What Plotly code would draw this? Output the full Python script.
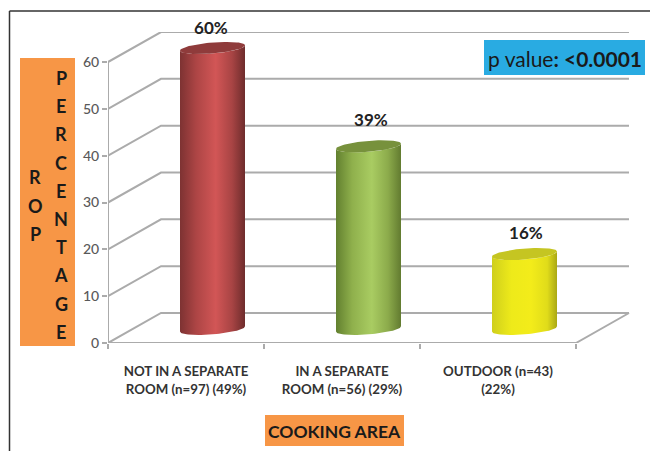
import numpy as np
import plotly.graph_objects as go

categories = ["NOT IN A SEPARATE<br>ROOM (n=97) (49%)", "IN A SEPARATE<br>ROOM (n=56) (29%)", "OUTDOOR (n=43)<br>(22%)"]
values = [60, 39, 16]
labels = ["60%", "39%", "16%"]
y_ticks = [0, 10, 20, 30, 40, 50, 60]
word_rop = list("ROP")
word_percentage = list("PERCENTAGE")

side_colors = [
    [[0, "#7d3232"], [0.25, "#ad4545"], [0.55, "#d25656"], [0.8, "#a84444"], [1, "#6e2c2c"]],
    [[0, "#62802f"], [0.25, "#8fb04c"], [0.55, "#a9cc62"], [0.8, "#8cab4b"], [1, "#627b30"]],
    [[0, "#cfcf1c"], [0.3, "#eeea1a"], [0.6, "#f3ec1a"], [0.85, "#e0dc1a"], [1, "#aaa815"]],
]
top_colors = ["#8f3b3b", "#77913c", "#c5c522"]
label_shift_x_px = [0, 4, 3]
label_shift_y_px = [1, 7, 2]

W, H = 650, 451
L, R, T, B = 108, 20, 32, 108
PX_X = 156.0
PX_Y = 4.683
DX, DY = 53 / PX_X, 30 / PX_Y
GRID = "#ababab"
XMAX = (W - R - L) / PX_X - 0.5
YMAX = (H - B - T) / PX_Y

fig = go.Figure()

# 3-D frame: walls and floor
for v in y_ticks:
    fig.add_trace(go.Scatter(x=[-0.5, -0.5 + DX, 2.5 + DX], y=[v, v + DY, v + DY], mode="lines",
                             line=dict(color=GRID, width=2), showlegend=False, hoverinfo="skip"))
fig.add_trace(go.Scatter(x=[-0.5, -0.5], y=[0, y_ticks[-1]], mode="lines",
                         line=dict(color=GRID, width=2), showlegend=False, hoverinfo="skip"))
fig.add_trace(go.Scatter(x=[-0.5, 2.5, 2.5 + DX], y=[0, 0, DY], mode="lines",
                         line=dict(color=GRID, width=2), showlegend=False, hoverinfo="skip"))

# Cylinders
A = 32.5 / PX_X
Bb = 5.5 / PX_Y
TILT = 2.6 / PX_Y
BASE = 3.0
OFFSET = 0.5 * DX
for i, v in enumerate(values):
    cx = i + OFFSET
    t_front = np.linspace(np.pi, 2 * np.pi, 40)
    bx = cx + A * np.cos(t_front)
    by = BASE + Bb * np.sin(t_front) + TILT * np.cos(t_front)
    tx = bx[::-1]
    ty = (by + v)[::-1]
    t_all = np.linspace(0, 2 * np.pi, 80)
    ex = cx + A * np.cos(t_all)
    ey = BASE + v + Bb * np.sin(t_all) + TILT * np.cos(t_all)
    fig.add_trace(go.Scatter(
        x=np.r_[bx, tx], y=np.r_[by, ty], mode="lines", fill="toself",
        line=dict(width=0, color="rgba(0,0,0,0)"),
        fillgradient=dict(type="horizontal", colorscale=side_colors[i]),
        showlegend=False, hoverinfo="skip"))
    fig.add_trace(go.Scatter(
        x=ex, y=ey, mode="lines", fill="toself", fillcolor=top_colors[i],
        line=dict(width=0, color="rgba(0,0,0,0)"), showlegend=False, hoverinfo="skip"))

# Value labels
fig.add_trace(go.Scatter(
    x=[i + OFFSET - 0.01 + label_shift_x_px[i] / PX_X for i in range(len(values))],
    y=[v + BASE + 1.9 + label_shift_y_px[i] / PX_Y for i, v in enumerate(values)],
    mode="text", text=labels, textposition="top center",
    textfont=dict(family="Lato", size=17, color="#222222", weight=700),
    showlegend=False, hoverinfo="skip", cliponaxis=False))

fig.update_xaxes(
    range=[-0.5, XMAX], tickmode="array", tickvals=list(range(len(categories))), ticktext=categories,
    ticks="", showgrid=False, zeroline=False, showline=False, ticklabelstandoff=19,
    tickfont=dict(family="Lato", size=13.3, color="#333333", weight=700),
    minor=dict(tickmode="array", tickvals=[-0.5, 0.5, 1.5, 2.5], ticks="outside", ticklen=5,
               tickcolor=GRID, tickwidth=1.5, showgrid=False))
fig.update_yaxes(
    range=[0, YMAX], tickmode="array", tickvals=y_ticks, ticks="outside", ticklen=5, tickwidth=1.5,
    tickcolor=GRID, showgrid=False, zeroline=False, showline=False,
    tickfont=dict(family="Lato", size=14, color="#595959", weight=500))


def px(x):
    return (x - L) / (W - L - R)


def py(y):
    return (H - B - y) / (H - B - T)


ORANGE = "#f79646"
shapes = [
    dict(x0=px(20), x1=px(75), y0=py(346), y1=py(58), fill=ORANGE),
    dict(x0=px(265), x1=px(404), y0=py(446), y1=py(415), fill=ORANGE),
    dict(x0=px(484), x1=px(645), y0=py(75), y1=py(40), fill="#29abe2"),
]
layout_shapes = [dict(type="rect", xref="paper", yref="paper", x0=s["x0"], x1=s["x1"], y0=s["y0"], y1=s["y1"],
                      fillcolor=s["fill"], line=dict(width=0), layer="below") for s in shapes]
layout_shapes.append(dict(type="line", xref="paper", yref="paper", x0=px(9.5), x1=px(650), y0=py(11), y1=py(11),
                          line=dict(color="#333333", width=1.5)))
layout_shapes.append(dict(type="line", xref="paper", yref="paper", x0=px(9.5), x1=px(9.5), y0=py(11), y1=py(451),
                          line=dict(color="#333333", width=1.5)))


def note(x, y, text, size, weight=700, color="#1a1a1a"):
    return dict(xref="paper", yref="paper", x=px(x), y=py(y), text=text, showarrow=False,
                xanchor="center", yanchor="middle",
                font=dict(family="Lato", size=size, color=color, weight=weight))


annotations = []
for i, ch in enumerate(word_rop):
    annotations.append(note(35, 177 + i * 28.5, ch, 18))
for i, ch in enumerate(word_percentage):
    annotations.append(note(61, 78 + i * 28.2, ch, 18))
annotations.append(note(334, 431, "COOKING AREA", 17.5))
annotations.append(note(565, 58, "p value<b>: &lt;0.0001</b>", 21, weight=400))

fig.update_layout(
    width=W, height=H, autosize=False, margin=dict(l=L, r=R, t=T, b=B, pad=0),
    paper_bgcolor="white", plot_bgcolor="rgba(0,0,0,0)", showlegend=False,
    shapes=layout_shapes, annotations=annotations)

fig.write_html("out.html", config=dict(displayModeBar=False),
               post_script="document.body.style.margin='0';document.documentElement.style.overflow='hidden';")
